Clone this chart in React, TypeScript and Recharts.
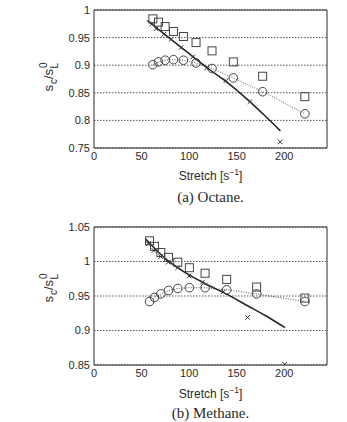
import React from 'react';
import {
  ComposedChart,
  Line,
  Scatter,
  XAxis,
  YAxis,
  CartesianGrid,
  ReferenceArea,
} from 'recharts';

// Octane: measured stretch points shared by squares and circles
const octaneStretch = [61.9, 67.8, 74.8, 83.6, 94, 107.3, 124.1, 146.5, 177.3, 221.7];
const octaneSquares = [0.984, 0.978, 0.97, 0.961, 0.952, 0.941, 0.926, 0.906, 0.88, 0.843];
const octaneCircles = [0.901, 0.906, 0.909, 0.91, 0.909, 0.904, 0.894, 0.877, 0.852, 0.812];
const octaneCrossStretch = [61.2, 65.4, 73.4, 81.1, 91.6, 103.8, 118.5, 138.8, 164, 195.8];
const octaneCrosses = [0.975, 0.966, 0.956, 0.947, 0.932, 0.915, 0.895, 0.872, 0.834, 0.761];
const octaneFitStretch = [56, 80, 100, 120, 140, 160, 180, 196];
const octaneFit = [0.981, 0.948, 0.921, 0.894, 0.869, 0.84, 0.808, 0.781];

// Methane
const methaneStretch = [58.4, 63.6, 70.3, 78.3, 88.1, 100.3, 116.8, 139.5, 171, 221.7];
const methaneSquares = [1.03, 1.022, 1.013, 1.006, 0.999, 0.991, 0.983, 0.974, 0.963, 0.947];
const methaneCircles = [0.942, 0.948, 0.953, 0.958, 0.961, 0.962, 0.962, 0.959, 0.953, 0.942];
const methaneCrossStretch = [57, 63, 70, 78, 88, 100, 114, 136, 161.5, 200.5];
const methaneCrosses = [1.026, 1.016, 1.007, 0.999, 0.991, 0.979, 0.97, 0.956, 0.919, 0.851];
const methaneFitStretch = [54, 76, 97, 118, 139, 160, 181, 201];
const methaneFit = [1.033, 1.003, 0.983, 0.967, 0.953, 0.937, 0.921, 0.904];

const xTicks = [0, 50, 100, 150, 200];
const octaneYTicks = [0.75, 0.8, 0.85, 0.9, 0.95, 1];
const methaneYTicks = [0.85, 0.9, 0.95, 1, 1.05];

const X_MAX = 245;
// small inward ticks around the frame
const minorX = Array.from({ length: 25 }, (_, i) => i * 10);
const minorY = (lo: number, hi: number) =>
  Array.from({ length: Math.round((hi - lo) / 0.01) + 1 }, (_, i) => +(lo + i * 0.01).toFixed(2));

const zip = (xs: number[], ys: number[]) => xs.map((x, i) => ({ x, y: ys[i] }));

const INK = '#2a2a2a';
const SANS = '"Liberation Sans", Arial, sans-serif';
const SERIF = '"Liberation Serif", "DejaVu Serif", serif';

const SquareMark = (props: any) => {
  const { cx, cy } = props;
  if (cx == null || cy == null) return null;
  return <rect x={cx - 4} y={cy - 4} width={8} height={8} fill="none" stroke="#444" strokeWidth={1} />;
};

const CircleMark = (props: any) => {
  const { cx, cy } = props;
  if (cx == null || cy == null) return null;
  return <circle cx={cx} cy={cy} r={4.3} fill="none" stroke="#444" strokeWidth={1} />;
};

const CrossMark = (props: any) => {
  const { cx, cy } = props;
  if (cx == null || cy == null) return null;
  const s = 2.3;
  return (
    <g stroke="#333" strokeWidth={1}>
      <line x1={cx - s} y1={cy - s} x2={cx + s} y2={cy + s} />
      <line x1={cx - s} y1={cy + s} x2={cx + s} y2={cy - s} />
    </g>
  );
};

// axis titles and captions, drawn over both panels
const Titles: React.FC<{ labelY: number; stretchY: number; captionY: number; caption: string }> = ({
  labelY,
  stretchY,
  captionY,
  caption,
}) => (
  <g fill={INK}>
    <text transform={`translate(53,${labelY}) rotate(-90)`} textAnchor="middle" fontSize={13} fontFamily={SANS}>
      s
      <tspan dx={1} dy={4} fontSize={10}>c</tspan>
      <tspan dy={-4}>/s</tspan>
      <tspan dx={1} dy={-6} fontSize={10}>0</tspan>
      <tspan dx={-6} dy={11} fontSize={10}>L</tspan>
    </text>
    <text x={210.5} y={stretchY} textAnchor="middle" fontSize={12} fontFamily={SANS}>
      Stretch [s
      <tspan dy={-5} fontSize={8.5}>−1</tspan>
      <tspan dy={5}>]</tspan>
    </text>
    <text x={210.5} y={captionY} textAnchor="middle" fontSize={15} fontFamily={SERIF}>
      {caption}
    </text>
  </g>
);

interface PanelProps {
  height: number;
  top: number;
  bottom: number;
  yDomain: [number, number];
  yTicks: number[];
  stretch: number[];
  squares: number[];
  circles: number[];
  crossStretch: number[];
  crosses: number[];
  fitStretch: number[];
  fit: number[];
}

const Panel: React.FC<PanelProps> = (p) => {
  const yMinor = minorY(p.yDomain[0], p.yDomain[1]);
  return (
    <ComposedChart
      width={347}
      height={p.height}
      margin={{ top: p.top, right: 20, bottom: p.bottom, left: 44 }}
    >
      <CartesianGrid vertical={false} stroke="#555" strokeDasharray="1.5 1.5" />
      <XAxis
        type="number"
        dataKey="x"
        domain={[0, X_MAX]}
        ticks={xTicks}
        allowDataOverflow
        axisLine={false}
        tickLine={false}
        tickSize={2}
        tickMargin={2}
        height={50}
        tick={{ fontSize: 11, fill: INK, fontFamily: SANS }}
      />
      <XAxis xAxisId="minB" type="number" domain={[0, X_MAX]} ticks={minorX} orientation="bottom"
        mirror tick={false} axisLine={false} tickSize={2.5} stroke="#222" />
      <XAxis xAxisId="minT" type="number" domain={[0, X_MAX]} ticks={minorX} orientation="top"
        mirror tick={false} axisLine={false} tickSize={2.5} stroke="#222" />
      <YAxis
        type="number"
        domain={p.yDomain}
        ticks={p.yTicks}
        allowDataOverflow
        axisLine={false}
        tickLine={false}
        tickSize={2}
        tickMargin={2}
        width={50}
        tick={{ fontSize: 11, fill: INK, fontFamily: SANS }}
      />
      <YAxis yAxisId="minL" type="number" domain={p.yDomain} ticks={yMinor} orientation="left"
        mirror tick={false} axisLine={false} tickSize={2.5} stroke="#222" />
      <YAxis yAxisId="minR" type="number" domain={p.yDomain} ticks={yMinor} orientation="right"
        mirror tick={false} axisLine={false} tickSize={2.5} stroke="#222" />
      <ReferenceArea
        x1={0}
        x2={X_MAX}
        y1={p.yDomain[0]}
        y2={p.yDomain[1]}
        fill="none"
        stroke={INK}
        strokeWidth={1}
      />
      <Line
        data={zip(p.stretch, p.circles)}
        dataKey="y"
        stroke="#555"
        strokeWidth={1}
        strokeDasharray="1 1.5"
        dot={<CircleMark />}
        isAnimationActive={false}
      />
      <Line
        data={zip(p.fitStretch, p.fit)}
        dataKey="y"
        type="monotone"
        stroke="#222"
        strokeWidth={1.5}
        dot={false}
        isAnimationActive={false}
      />
      <Scatter data={zip(p.stretch, p.squares)} dataKey="y" shape={<SquareMark />} isAnimationActive={false} />
      <Scatter data={zip(p.crossStretch, p.crosses)} dataKey="y" shape={<CrossMark />} isAnimationActive={false} />
    </ComposedChart>
  );
};

export default function App() {
  return (
    <div style={{ position: 'absolute', left: 0, top: 0, width: 347, height: 422, background: '#fff' }}>
      <Panel
        height={210}
        top={10}
        bottom={12}
        yDomain={[0.75, 1]}
        yTicks={octaneYTicks}
        stretch={octaneStretch}
        squares={octaneSquares}
        circles={octaneCircles}
        crossStretch={octaneCrossStretch}
        crosses={octaneCrosses}
        fitStretch={octaneFitStretch}
        fit={octaneFit}
      />
      <Panel
        height={212}
        top={17}
        bottom={7}
        yDomain={[0.85, 1.05]}
        yTicks={methaneYTicks}
        stretch={methaneStretch}
        squares={methaneSquares}
        circles={methaneCircles}
        crossStretch={methaneCrossStretch}
        crosses={methaneCrosses}
        fitStretch={methaneFitStretch}
        fit={methaneFit}
      />
      <svg
        width={347}
        height={422}
        style={{ position: 'absolute', left: 0, top: 0, pointerEvents: 'none' }}
      >
        <Titles labelY={77} stretchY={179.5} captionY={202} caption="(a) Octane." />
        <Titles labelY={288} stretchY={397.5} captionY={417.5} caption="(b) Methane." />
      </svg>
    </div>
  );
}
